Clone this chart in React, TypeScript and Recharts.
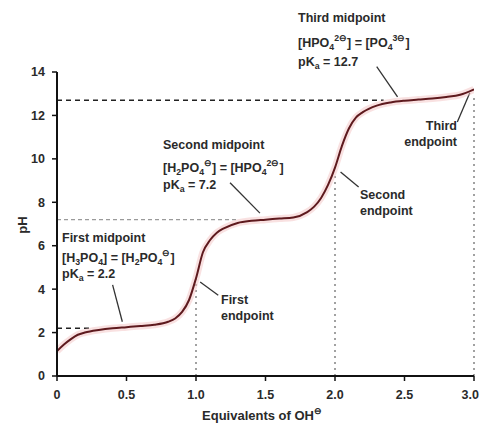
import React from 'react';
import { LineChart, Line, XAxis, YAxis, ReferenceLine } from 'recharts';

const equivalents = [0, 0.05, 0.1, 0.15, 0.2, 0.3, 0.4, 0.5, 0.6, 0.7, 0.8, 0.85, 0.9, 0.95, 1.0, 1.05, 1.1, 1.15, 1.2, 1.3, 1.4, 1.5, 1.6, 1.7, 1.8, 1.85, 1.9, 1.95, 2.0, 2.05, 2.1, 2.15, 2.2, 2.3, 2.4, 2.5, 2.6, 2.7, 2.8, 2.9, 3.0];
const pHValues = [1.15, 1.45, 1.7, 1.9, 2.0, 2.12, 2.2, 2.25, 2.3, 2.36, 2.5, 2.65, 2.95, 3.5, 4.5, 5.7, 6.25, 6.6, 6.8, 7.05, 7.15, 7.2, 7.25, 7.3, 7.55, 7.8, 8.2, 8.8, 9.6, 10.6, 11.4, 11.9, 12.15, 12.45, 12.6, 12.68, 12.73, 12.78, 12.85, 12.95, 13.2];

const xTicks = [0, 0.5, 1, 1.5, 2, 2.5, 3];
const xTickLabels = ['0', '0.5', '1.0', '1.5', '2.0', '2.5', '3.0'];
const yTicks = [0, 2, 4, 6, 8, 10, 12, 14];

const pKa = [2.2, 7.2, 12.7];
const midpointGuideEnds = [0.25, 1.3, 2.35];
const endpoints = [1, 2, 3];
const endpointGuideTops = [4.5, 9.4, 12.8];

// annotation pointer segments (data coordinates)
const pointers: [number, number, number, number][] = [
  [0.40, 4.2, 0.47, 2.5],
  [1.245, 8.9, 1.46, 7.5],
  [2.30, 14.25, 2.45, 12.85],
  [1.16, 3.72, 1.03, 4.33],
  [2.17, 8.7, 2.04, 9.4],
  [2.88, 11.7, 2.97, 13.04],
];

const data = equivalents.map((e, i) => ({ eq: e, pH: pHValues[i] }));

const FONT = '"Liberation Sans", Arial, sans-serif';
const TXT = '#2a2a2a';

type Seg = { t: string; k?: 'sub' | 'sup' };

const Rich = ({ x, y, segs, size = 12.5, anchor = 'start' }: { x: number; y: number; segs: Seg[]; size?: number; anchor?: string }) => {
  let cur = 0;
  const out: React.ReactNode[] = [];
  segs.forEach((s, i) => {
    const target = s.k === 'sub' ? 3 : s.k === 'sup' ? -6 : 0;
    const dy = target - cur;
    cur = target;
    out.push(
      <tspan key={i} dy={dy} fontSize={s.k ? size * 0.7 : size}>
        {s.t}
      </tspan>
    );
  });
  return (
    <text x={x} y={y} fontFamily={FONT} fontWeight="bold" fill={TXT} textAnchor={anchor as any} fontSize={size}>
      {out}
    </text>
  );
};

const Plain = ({ x, y, t, size = 12.5, anchor = 'start' }: { x: number; y: number; t: string; size?: number; anchor?: string }) => (
  <text x={x} y={y} fontFamily={FONT} fontWeight="bold" fill={TXT} textAnchor={anchor as any} fontSize={size}>
    {t}
  </text>
);

const XTick = (props: any) => {
  const { x, y, payload } = props;
  const idx = xTicks.indexOf(payload.value);
  const last = idx === xTicks.length - 1;
  return (
    <text
      x={last ? Math.min(x + 9, 479) : x}
      y={y}
      dy="0.71em"
      textAnchor={last ? 'end' : 'middle'}
      fill={TXT}
      fontSize={12.5}
      fontWeight="bold"
      fontFamily={FONT}
    >
      {xTickLabels[idx]}
    </text>
  );
};

export default function App() {
  return (
    <div style={{ position: 'absolute', left: 0, top: 0, width: 480, height: 426, background: '#fff' }}>
      <LineChart width={480} height={426} data={data} margin={{ top: 72, right: 6, bottom: 0, left: 0 }}>
        <XAxis
          dataKey="eq"
          type="number"
          domain={[0, 3]}
          ticks={xTicks}
          height={50}
          tickSize={5}
          tickMargin={9}
          axisLine={{ stroke: '#111', strokeWidth: 2 }}
          tickLine={{ stroke: '#111', strokeWidth: 1.5 }}
          tick={<XTick />}
          interval={0}
          allowDataOverflow
        />
        <YAxis
          type="number"
          domain={[0, 14]}
          ticks={yTicks}
          width={57}
          tickSize={5}
          tickMargin={7}
          axisLine={{ stroke: '#111', strokeWidth: 2 }}
          tickLine={{ stroke: '#111', strokeWidth: 1.5 }}
          tick={{ fill: TXT, fontSize: 12.5, fontWeight: 'bold', fontFamily: FONT }}
          interval={0}
          allowDataOverflow
        />
        {pKa.map((p, i) => (
          <ReferenceLine
            key={'h' + i}
            segment={[{ x: 0, y: p }, { x: midpointGuideEnds[i], y: p }]}
            stroke={i === 1 ? '#9a9a9a' : '#222'}
            strokeWidth={1.3}
            strokeDasharray={i === 1 ? '4 3' : '5 4'}
            ifOverflow="visible"
          />
        ))}
        {endpoints.map((e, i) => (
          <ReferenceLine
            key={'v' + i}
            segment={[{ x: e, y: 0 }, { x: e, y: endpointGuideTops[i] }]}
            stroke="#8a8a8a"
            strokeWidth={1.6}
            strokeDasharray="2 4"
            ifOverflow="visible"
          />
        ))}
        {pointers.map((p, i) => (
          <ReferenceLine
            key={'p' + i}
            segment={[{ x: p[0], y: p[1] }, { x: p[2], y: p[3] }]}
            stroke="#333"
            strokeWidth={1.3}
            ifOverflow="visible"
          />
        ))}
        <Line
          type="monotone"
          dataKey="pH"
          stroke="#f3c4c4"
          strokeWidth={7}
          strokeOpacity={0.5}
          dot={false}
          activeDot={false}
          isAnimationActive={false}
        />
        <Line
          type="monotone"
          dataKey="pH"
          stroke="#5e1a1e"
          strokeWidth={2}
          dot={false}
          activeDot={false}
          isAnimationActive={false}
        />
      </LineChart>
      <svg width={480} height={426} style={{ position: 'absolute', left: 0, top: 0, pointerEvents: 'none' }}>
        {/* Third midpoint */}
        <Plain x={298} y={22} t="Third midpoint" />
        <Rich x={298} y={47} segs={[{ t: '[HPO' }, { t: '4', k: 'sub' }, { t: '2⊖', k: 'sup' }, { t: '] = [PO' }, { t: '4', k: 'sub' }, { t: '3⊖', k: 'sup' }, { t: ']' }]} />
        <Rich x={298} y={66} segs={[{ t: 'pK' }, { t: 'a', k: 'sub' }, { t: ' = 12.7' }]} />
        {/* Second midpoint */}
        <Plain x={163} y={149} t="Second midpoint" />
        <Rich x={163} y={172} segs={[{ t: '[H' }, { t: '2', k: 'sub' }, { t: 'PO' }, { t: '4', k: 'sub' }, { t: '⊖', k: 'sup' }, { t: '] = [HPO' }, { t: '4', k: 'sub' }, { t: '2⊖', k: 'sup' }, { t: ']' }]} />
        <Rich x={163} y={189} segs={[{ t: 'pK' }, { t: 'a', k: 'sub' }, { t: ' = 7.2' }]} />
        {/* First midpoint */}
        <Plain x={62} y={242} t="First midpoint" />
        <Rich x={62} y={262} segs={[{ t: '[H' }, { t: '3', k: 'sub' }, { t: 'PO' }, { t: '4', k: 'sub' }, { t: '] = [H' }, { t: '2', k: 'sub' }, { t: 'PO' }, { t: '4', k: 'sub' }, { t: '⊖', k: 'sup' }, { t: ']' }]} />
        <Rich x={62} y={278} segs={[{ t: 'pK' }, { t: 'a', k: 'sub' }, { t: ' = 2.2' }]} />
        {/* endpoints */}
        <Plain x={221} y={304} t="First" />
        <Plain x={221} y={320} t="endpoint" />
        <Plain x={360} y={199} t="Second" />
        <Plain x={360} y={215} t="endpoint" />
        <Plain x={457} y={130} t="Third" anchor="end" />
        <Plain x={457} y={146} t="endpoint" anchor="end" />
        {/* axis titles */}
        <text x={24} y={225} transform="rotate(-90 24 225)" textAnchor="middle" dominantBaseline="middle" fontFamily={FONT} fontWeight="bold" fontSize={13} fill={TXT}>
          pH
        </text>
        <Rich x={262} y={420} anchor="middle" size={13} segs={[{ t: 'Equivalents of OH' }, { t: '⊖', k: 'sup' }]} />
      </svg>
    </div>
  );
}
